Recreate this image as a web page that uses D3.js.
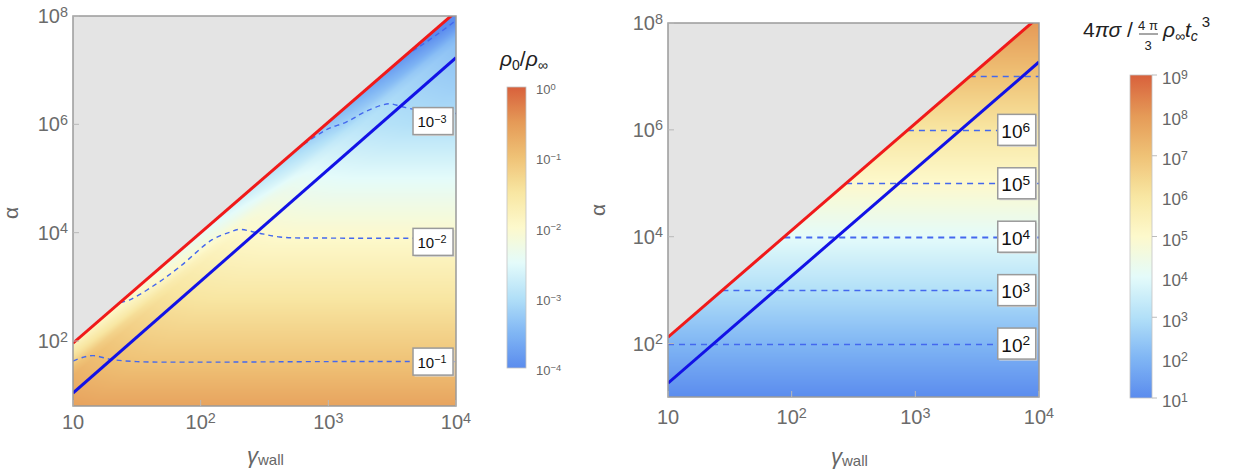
<!DOCTYPE html>
<html><head><meta charset="utf-8">
<script src="https://cdn.jsdelivr.net/npm/d3@7"></script>
<style>
body{margin:0;background:#fff}
svg{display:block;font-family:"Liberation Sans",Arial,sans-serif}
</style>
</head><body>
<svg id="chart" width="1247" height="475"></svg>
<script>
// all values below are log10 of the quantity
let gammaTicks = [1, 2, 3, 4];      // gamma_wall
let alphaTicks = [2, 4, 6, 8];      // alpha

// boundary lines [log gamma, log alpha]
let redLeft = [[1, 1.96], [4, 8.08]];
let blueLeft = [[1, 1.04], [4, 7.23]];
let redRight = [[1, 2.12], [4, 8.12]];
let blueRight = [[1, 1.26], [4, 7.27]];

// left map rho0/rho_inf far under the red line, vs alpha
let bulkAlpha = [0.8, 1.6, 2.5, 3.0, 3.92, 5.0, 6.0, 7.0, 8.0];
let bulkRho = [-0.62, -1.0, -1.38, -1.6, -2.0, -2.5, -3.0, -3.3, -3.65];
// extra change of rho0/rho_inf right under the red line
let edgeGamma = [1, 1.5, 2, 2.5, 3, 3.5, 4];
let edgeRho = [-0.7, -0.55, -0.45, -0.38, -0.35, -0.5, -0.6];
let edgeDepth = [0, 0.15, 0.3, 0.45, 0.6, 0.9, 1.4];   // decades under red line
let edgeShape = [1, 0.7, 0.4, 0, -0.15, -0.07, 0];

// left contours rho0/rho_inf = 10^-1 .. 10^-4
let contM1 = [[1, 1.63], [1.08, 1.70], [1.16, 1.73], [1.3, 1.66], [1.5, 1.62], [2, 1.61], [3, 1.62], [4, 1.62]];
let contM2 = [[1.37, 2.71], [1.445, 2.76], [1.65, 3.05], [1.836, 3.37], [2.09, 3.87], [2.23, 4.01], [2.30, 4.06], [2.44, 4.0], [2.62, 3.92], [3, 3.9], [4, 3.9]];
let contM3 = [[2.75, 5.53], [2.9, 5.78], [3.01, 5.93], [3.14, 6.04], [3.27, 6.21], [3.40, 6.34], [3.48, 6.38], [3.57, 6.33], [3.7, 6.26], [3.85, 6.22], [4, 6.2]];
let contM4 = [[3.6, 7.27], [3.71, 7.43], [3.87, 7.69], [4, 7.92]];
let leftLabels = [-1, -2, -3];
let leftLabelAlpha = [1.62, 3.83, 6.06];

// right map: value equals alpha, contours at these levels
let rightLevels = [2, 3, 4, 5, 6, 7];
let rightLabels = [2, 3, 4, 5, 6];

let cbLeftTicks = [0, -1, -2, -3, -4];
let cbRightTicks = [9, 8, 7, 6, 5, 4, 3, 2, 1];
let cmapColors = ["#5b8cee", "#80b6f4", "#b2e0f8", "#e4fbfa", "#fdf9cc", "#f8e6a2", "#efc276", "#e59a57", "#d8603c"];

const svg = d3.select("#chart");
const cmap = d3.scaleLinear().domain(d3.range(9).map(i => i / 8)).range(cmapColors).clamp(true);

const L = {
  x: d3.scaleLog().domain([10, 1e4]).range([73, 456]),
  y: d3.scaleLog().domain([Math.pow(10, 0.8), 1e8]).range([406, 16]),
  id: "L"
};
const R = {
  x: d3.scaleLog().domain([10, 1e4]).range([668, 1039]),
  y: d3.scaleLog().domain([10, 1e8]).range([397, 23]),
  id: "R"
};

function px(P) { return d => P.x(Math.pow(10, d[0])); }
function py(P) { return d => P.y(Math.pow(10, d[1])); }

function supText(g, x, y, exp, size, anchor, fill) {
  let t = g.append("text").attr("x", x).attr("y", y).attr("font-size", size)
    .attr("text-anchor", anchor).attr("fill", fill);
  t.append("tspan").text("10");
  if (exp !== null) t.append("tspan").attr("dy", "-0.45em").attr("font-size", size * 0.72)
    .text(String(exp).replace("-", "\u2212"));
  return t;
}

function heat(P, valueFn, tOf, red) {
  let [x0, x1] = P.x.range(), [y1, y0] = P.y.range();
  let w = Math.round(x1 - x0), h = Math.round(y1 - y0);
  let cv = document.createElement("canvas");
  cv.width = w; cv.height = h;
  let ctx = cv.getContext("2d");
  let img = ctx.createImageData(w, h);
  let redAt = d3.scaleLinear().domain(red.map(d => d[0])).range(red.map(d => d[1]));
  for (let j = 0; j < h; j++) {
    let la = Math.log10(P.y.invert(y0 + j + 0.5));
    for (let i = 0; i < w; i++) {
      let lg = Math.log10(P.x.invert(x0 + i + 0.5));
      if (la > redAt(lg)) continue;
      let c = d3.rgb(cmap(tOf(valueFn(lg, la))));
      let k = (j * w + i) * 4;
      img.data[k] = c.r; img.data[k + 1] = c.g; img.data[k + 2] = c.b; img.data[k + 3] = 255;
    }
  }
  ctx.putImageData(img, 0, 0);
  svg.append("image").attr("x", x0).attr("y", y0).attr("width", w).attr("height", h)
    .attr("preserveAspectRatio", "none").attr("href", cv.toDataURL());
}

function panelBase(P) {
  let [x0, x1] = P.x.range(), [y1, y0] = P.y.range();
  svg.append("clipPath").attr("id", "clip" + P.id).append("rect")
    .attr("x", x0).attr("y", y0).attr("width", x1 - x0).attr("height", y1 - y0);
  svg.append("rect").attr("x", x0).attr("y", y0).attr("width", x1 - x0).attr("height", y1 - y0)
    .attr("fill", "#e4e4e4");
}

function panelTop(P, red, blue, axisX) {
  let [x0, x1] = P.x.range(), [y1, y0] = P.y.range();
  let g = svg.append("g").attr("clip-path", `url(#clip${P.id})`);
  let line = d3.line().x(px(P)).y(py(P));
  g.append("path").attr("d", line(blue)).attr("fill", "none").attr("stroke", "#1212e6").attr("stroke-width", 3);
  g.append("path").attr("d", line(red)).attr("fill", "none").attr("stroke", "#f01a1a").attr("stroke-width", 3);
  svg.append("rect").attr("x", x0).attr("y", y0).attr("width", x1 - x0).attr("height", y1 - y0)
    .attr("fill", "none").attr("stroke", "#9a9a9a").attr("stroke-width", 1.5);
  // tick marks
  let tk = svg.append("g").attr("stroke", "#b8b8b8").attr("stroke-width", 1);
  alphaTicks.forEach(a => {
    let yy = P.y(Math.pow(10, a));
    tk.append("line").attr("x1", x0).attr("x2", x0 + 6).attr("y1", yy).attr("y2", yy);
    supText(svg, x0 - 5, yy + 7, a, 20, "end", "#6b6b6b");
  });
  gammaTicks.forEach(gm => {
    let xx = P.x(Math.pow(10, gm));
    tk.append("line").attr("x1", xx).attr("x2", xx).attr("y1", y1).attr("y2", y1 - 6);
    supText(svg, xx, axisX, gm === 1 ? null : gm, 20, "middle", "#6b6b6b");
  });
}

function labelBox(cx, cy, w, h, exp, size) {
  svg.append("rect").attr("x", cx - w / 2 + 1.5).attr("y", cy - h / 2 + 1.5).attr("width", w).attr("height", h)
    .attr("fill", "#d8d8d8");
  svg.append("rect").attr("x", cx - w / 2).attr("y", cy - h / 2).attr("width", w).attr("height", h)
    .attr("fill", "#fff").attr("stroke", "#9a9a9a").attr("stroke-width", 1.5);
  supText(svg, cx - 1, cy + size * 0.42, exp, size, "middle", "#111");
}

// ---------- left panel ----------
panelBase(L);
const bulkAt = d3.scaleLinear().domain(bulkAlpha).range(bulkRho).clamp(true);
const edgeAt = d3.scaleLinear().domain(edgeGamma).range(edgeRho).clamp(true);
const shapeAt = d3.scaleLinear().domain(edgeDepth).range(edgeShape).clamp(true);
const redLAt = d3.scaleLinear().domain(redLeft.map(d => d[0])).range(redLeft.map(d => d[1]));
heat(L, (lg, la) => bulkAt(la) + edgeAt(lg) * shapeAt(redLAt(lg) - la), v => (v + 4) / 4, redLeft);

let gL = svg.append("g").attr("clip-path", "url(#clipL)");
let cline = d3.line().x(px(L)).y(py(L)).curve(d3.curveCatmullRom);
[contM1, contM2, contM3, contM4].forEach(c => {
  gL.append("path").attr("d", cline(c)).attr("fill", "none").attr("stroke", "#4468ee")
    .attr("stroke-width", 1.4).attr("stroke-dasharray", "5,4");
});
panelTop(L, redLeft, blueLeft, 429);
leftLabels.forEach((e, i) => {
  labelBox(L.x(Math.pow(10, 3.82)), L.y(Math.pow(10, leftLabelAlpha[i])), 40, 27, e, 15);
});

// ---------- right panel ----------
panelBase(R);
heat(R, (lg, la) => la, v => (v - 1) / 8, redRight);
const redRInv = d3.scaleLinear().domain(redRight.map(d => d[1])).range(redRight.map(d => d[0]));
let gR = svg.append("g").attr("clip-path", "url(#clipR)");
rightLevels.forEach(a => {
  let g0 = Math.max(1, redRInv(a));
  let yy = Math.round(R.y(Math.pow(10, a))) + 0.5;
  gR.append("line").attr("x1", R.x(Math.pow(10, g0))).attr("x2", R.x(1e4)).attr("y1", yy).attr("y2", yy)
    .attr("stroke", "#4468ee").attr("stroke-width", a === 4 ? 2 : 1.3).attr("stroke-dasharray", "6,5");
});
panelTop(R, redRight, blueRight, 424);
rightLabels.forEach(e => {
  labelBox(R.x(Math.pow(10, 3.82)), R.y(Math.pow(10, e)), 38, 31, e, 19);
});

// ---------- axis titles ----------
[[18, 213], [605, 210]].forEach(p => {
  svg.append("text").attr("transform", `translate(${p[0]},${p[1]}) rotate(-90)`)
    .attr("text-anchor", "middle").attr("font-size", 21).attr("fill", "#666").text("\u03b1");
});
[[247, 463], [831, 464]].forEach(p => {
  let t = svg.append("text").attr("x", p[0]).attr("y", p[1]).attr("fill", "#666").attr("font-size", 22);
  t.append("tspan").attr("font-style", "italic").text("\u03b3");
  t.append("tspan").attr("font-size", 15).attr("dy", 2).text("wall");
});

// ---------- colour bars ----------
function colorBar(id, x, yTop, yBot, w, lo, hi, ticks, labelSize, tickMarks) {
  let grad = svg.append("defs").append("linearGradient").attr("id", id)
    .attr("x1", 0).attr("y1", 1).attr("x2", 0).attr("y2", 0);
  d3.range(0, 1.0001, 0.025).forEach(t => grad.append("stop").attr("offset", t).attr("stop-color", cmap(t)));
  svg.append("rect").attr("x", x).attr("y", yTop).attr("width", w).attr("height", yBot - yTop)
    .attr("fill", `url(#${id})`).attr("stroke", "#c4c4c4").attr("stroke-width", 0.8);
  let s = d3.scaleLinear().domain([lo, hi]).range([yBot, yTop]);
  ticks.forEach(v => {
    if (tickMarks && (v - lo) % 2 === 0)
      svg.append("line").attr("x1", x + w).attr("x2", x + w + 5).attr("y1", s(v)).attr("y2", s(v))
        .attr("stroke", "#bbb");
    supText(svg, x + w + 10, s(v) + labelSize * 0.55, v, labelSize, "start", "#666");
  });
}
colorBar("cbL", 507, 87, 368, 19, -4, 0, cbLeftTicks, 13, false);
colorBar("cbR", 1130, 75, 398, 22, 1, 9, cbRightTicks, 17, true);

// left bar title  rho0 / rho_inf
let tl = svg.append("text").attr("x", 500).attr("y", 66).attr("font-size", 21).attr("fill", "#222");
tl.append("tspan").attr("font-style", "italic").text("\u03c1");
tl.append("tspan").attr("font-size", 14).attr("dy", 4).text("0");
tl.append("tspan").attr("dy", -4).text("/");
tl.append("tspan").attr("font-style", "italic").text("\u03c1");
tl.append("tspan").attr("font-size", 14).attr("dy", 4).text("\u221e");

// right bar title  4 pi sigma / (4 pi / 3) rho_inf t_c ^3
let tr = svg.append("text").attr("x", 1083).attr("y", 37).attr("font-size", 21).attr("fill", "#222");
tr.append("tspan").text("4");
tr.append("tspan").attr("font-style", "italic").text("\u03c0\u03c3");
tr.append("tspan").text(" / ");
svg.append("text").attr("x", 1148).attr("y", 30).attr("font-size", 13).attr("text-anchor", "middle")
  .attr("fill", "#222").text("4 \u03c0");
svg.append("line").attr("x1", 1139).attr("x2", 1158).attr("y1", 34).attr("y2", 34).attr("stroke", "#222").attr("stroke-width", 0.8);
svg.append("text").attr("x", 1148).attr("y", 50).attr("font-size", 13).attr("text-anchor", "middle")
  .attr("fill", "#222").text("3");
let tr2 = svg.append("text").attr("x", 1163).attr("y", 37).attr("font-size", 21).attr("fill", "#222");
tr2.append("tspan").attr("font-style", "italic").text("\u03c1");
tr2.append("tspan").attr("font-size", 14).attr("dy", 4).text("\u221e");
tr2.append("tspan").attr("dy", -4).attr("font-style", "italic").text("t");
tr2.append("tspan").attr("font-size", 14).attr("dy", 4).attr("font-style", "italic").text("c");
tr2.append("tspan").attr("font-size", 15).attr("dy", -14).attr("dx", 4).text("3");
</script>
</body></html>
